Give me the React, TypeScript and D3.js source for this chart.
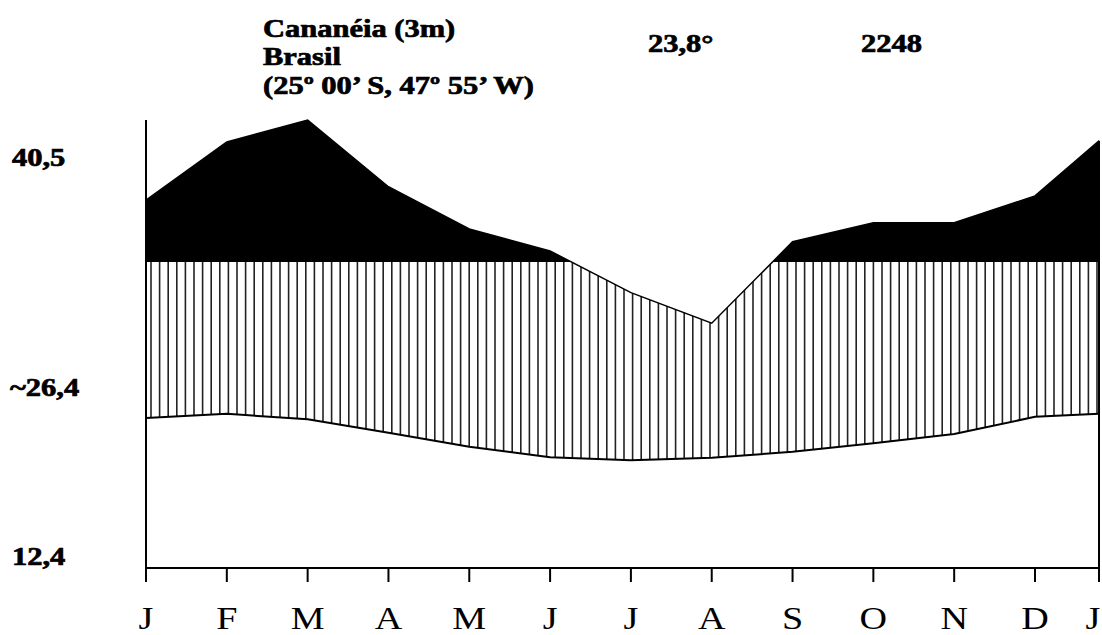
import React from "react";
import * as d3 from "d3";

// Walter-Lieth style climate diagram, Cananéia (SP)
const months = ["J", "F", "M", "A", "M", "J", "J", "A", "S", "O", "N", "D", "J"];
const temperature = [24.5, 25.2, 24.3, 22.1, 19.8, 18.1, 17.6, 18.0, 19.0, 20.4, 21.9, 24.7, 25.2];
const precipitation = [201, 296, 332, 223, 154, 118, 90, 80, 133, 164, 164, 208, 298];
const sideLabels = ["40,5", "~26,4", "12,4"];
const stationLines = ["Cananéia (3m)", "Brasil", "(25º 00’ S, 47º 55’ W)"];
const meanTemp = "23,8°";
const annualPrecip = "2248";

const W = 1102;
const H = 635;
const left = 146;
const right = 1099;
const bottom = 568;
const top = 120;
const font = "Liberation Serif, Times New Roman, serif";

const App: React.FC = () => {
  const idx = d3.range(months.length);

  // month axis, last interval is a bit shorter in the original
  const x = d3.scaleLinear().domain([0, 11, 12]).range([left, 1035, right]);
  const yT = d3.scaleLinear().domain([0, 50]).range([bottom, 262]);
  // 10 °C = 20 mm below 100 mm, 10 °C = 100 mm above
  const yP = d3
    .scaleLinear()
    .domain([0, 100, 400])
    .range([yT(0), yT(50), yT(50) - 3 * (yT(0) - yT(10))]);

  const tempLine = d3
    .line<number>()
    .x((i) => x(i))
    .y((i) => yT(temperature[i]));
  const precLine = d3
    .line<number>()
    .x((i) => x(i))
    .y((i) => yP(precipitation[i]));

  const belowPrecip = d3
    .area<number>()
    .x((i) => x(i))
    .y0(bottom + 10)
    .y1((i) => yP(precipitation[i]));
  const humidBand = d3
    .area<number>()
    .x((i) => x(i))
    .y0((i) => yT(temperature[i]))
    .y1(yP(100));
  const wetArea = d3
    .area<number>()
    .x((i) => x(i))
    .y0(yP(100))
    .y1((i) => yP(precipitation[i]));

  const hatchX = d3.range(left + 5, right, 8.6);
  const sideY = [166, 396, 565];
  const stationY = [37, 65, 94];

  const bold = {
    fontSize: 25,
    fontWeight: "bold" as const,
    stroke: "#000",
    strokeWidth: 0.7,
  };

  return (
    <svg
      width={W}
      height={H}
      style={{ position: "absolute", left: 0, top: 0, background: "#fff" }}
      fontFamily={font}
    >
      <defs>
        <clipPath id="below-precip">
          <path d={belowPrecip(idx) || ""} />
        </clipPath>
        <clipPath id="humid-band">
          <path d={humidBand(idx) || ""} />
        </clipPath>
        <clipPath id="over-100">
          <rect x={0} y={0} width={W} height={yP(100)} />
        </clipPath>
      </defs>

      {/* perhumid part, P > 100 mm */}
      <path d={wetArea(idx) || ""} fill="#000" clipPath="url(#over-100)" />

      {/* humid part, vertical hatching */}
      <g clipPath="url(#below-precip)">
        <g clipPath="url(#humid-band)">
          {hatchX.map((hx, i) => (
            <line key={i} x1={hx} x2={hx} y1={top} y2={bottom} stroke="#222" strokeWidth={1.6} />
          ))}
        </g>
      </g>

      <path d={precLine(idx) || ""} fill="none" stroke="#000" strokeWidth={1.5} />
      <path d={tempLine(idx) || ""} fill="none" stroke="#000" strokeWidth={2} />

      {/* frame */}
      <line x1={left} x2={left} y1={top} y2={bottom + 14} stroke="#000" strokeWidth={2} />
      <line
        x1={right}
        x2={right}
        y1={yP(precipitation[precipitation.length - 1])}
        y2={bottom + 14}
        stroke="#000"
        strokeWidth={2}
      />
      <line x1={left} x2={right} y1={bottom} y2={bottom} stroke="#000" strokeWidth={2} />
      {idx.map((i) => (
        <line key={i} x1={x(i)} x2={x(i)} y1={bottom} y2={bottom + 14} stroke="#000" strokeWidth={2} />
      ))}

      {/* month labels */}
      {months.map((m, i) => (
        <text
          key={i}
          transform={`translate(${Math.min(x(i), right - 6)},${629}) scale(1.23,1)`}
          textAnchor="middle"
          fontSize={31}
        >
          {m}
        </text>
      ))}

      {/* side labels */}
      {sideLabels.map((s, i) => (
        <text key={i} transform={`translate(${i === 1 ? 10 : 12},${sideY[i]}) scale(1.22,1)`} {...bold}>
          {s}
        </text>
      ))}

      {/* header */}
      {stationLines.map((s, i) => (
        <text key={i} transform={`translate(263,${stationY[i]}) scale(1.22,1)`} {...bold}>
          {s}
        </text>
      ))}
      <text transform="translate(648,52) scale(1.22,1)" {...bold}>
        {meanTemp}
      </text>
      <text transform="translate(861,52) scale(1.22,1)" {...bold}>
        {annualPrecip}
      </text>
    </svg>
  );
};

export default App;
